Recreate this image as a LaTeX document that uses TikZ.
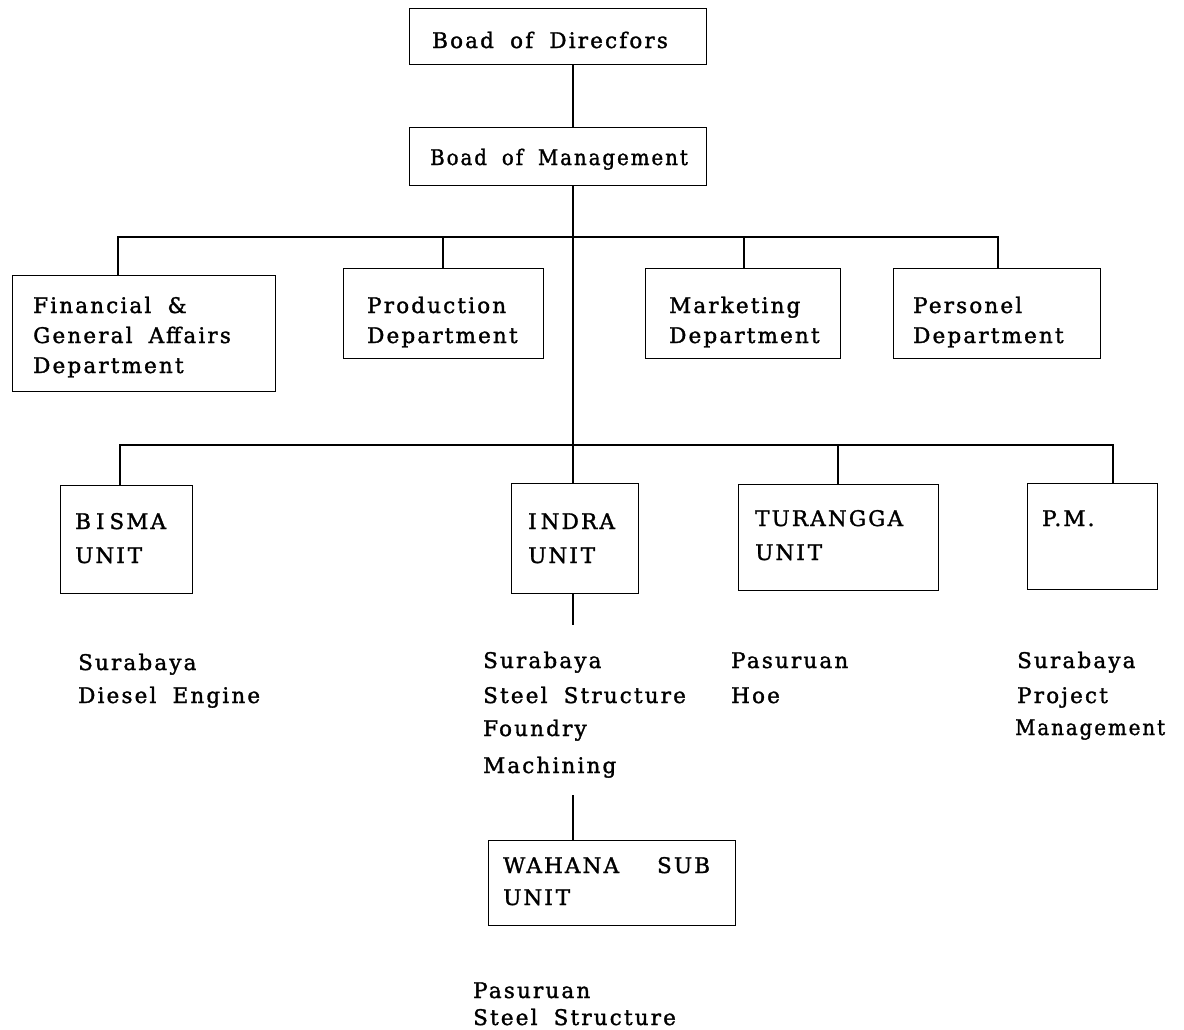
\documentclass[tikz,border=0pt]{standalone}
\usepackage{fontspec}
\setmainfont{DejaVu Serif}[LetterSpace=10, WordSpace=1.8, FakeBold=1.5]
\begin{document}
\begin{tikzpicture}[x=1pt,y=-1pt,
  box/.style={draw, line width=1.3pt, inner sep=0pt, anchor=north west},
  conn/.style={line width=2.4pt},
  txt/.style={anchor=base west, inner sep=0pt, font=\fontsize{21.5}{21.5}\selectfont},
  narrow/.style={xscale=0.92, transform shape}]
\useasboundingbox (0,0) rectangle (1184,1029);
% boxes
\node[box, minimum width=297pt, minimum height=56pt] (dir) at (409,8) {};
\node[box, minimum width=297pt, minimum height=58pt] (mgmt) at (409,127) {};
\node[box, minimum width=263pt, minimum height=116pt] (fin) at (12,275) {};
\node[box, minimum width=200pt, minimum height=90pt] (prod) at (343,268) {};
\node[box, minimum width=195pt, minimum height=90pt] (mkt) at (645,268) {};
\node[box, minimum width=207pt, minimum height=90pt] (pers) at (893,268) {};
\node[box, minimum width=132pt, minimum height=108pt] (bisma) at (60,485) {};
\node[box, minimum width=127pt, minimum height=110pt] (indra) at (511,483) {};
\node[box, minimum width=200pt, minimum height=106pt] (tur) at (738,484) {};
\node[box, minimum width=130pt, minimum height=106pt] (pm) at (1027,483) {};
\node[box, minimum width=247pt, minimum height=85pt] (wah) at (488,840) {};
% coordinates
\coordinate (spine) at (573,0);
\coordinate (b1L) at (118,237);
\coordinate (b1R) at (998,237);
\coordinate (b1P) at (443,237);
\coordinate (b1M) at (744,237);
\coordinate (b2L) at (120,445);
\coordinate (b2R) at (1113,445);
\coordinate (b2T) at (838,445);
\coordinate (indraEnd) at (573,625);
\coordinate (wahStart) at (573,795);
% connectors
\draw[conn] (dir.south -| spine) -- (mgmt.north -| spine);
\draw[conn] (mgmt.south -| spine) -- (indra.north -| spine);
\draw[conn] (fin.north -| b1L) -- (b1L) -- (b1R) -- (pers.north -| b1R);
\draw[conn] (b1P) -- (prod.north -| b1P);
\draw[conn] (b1M) -- (mkt.north -| b1M);
\draw[conn] (bisma.north -| b2L) -- (b2L) -- (b2R) -- (pm.north -| b2R);
\draw[conn] (b2T) -- (tur.north -| b2T);
\draw[conn] (indra.south -| spine) -- (indraEnd);
\draw[conn] (wahStart) -- (wah.north -| spine);
% box texts
\node[txt] (dirT) at (432,48) {Boad of Direcfors};
\node[txt, narrow] (mgmtT) at (430,165) {Boad of Management};
\node[txt] (finT1) at (33,313) {Financial \&};
\node[txt] (finT2) at (33,343) {General Affairs};
\node[txt] (finT3) at (33,373) {Department};
\node[txt] (prodT1) at (367,313) {Production};
\node[txt] (prodT2) at (367,343) {Department};
\node[txt] (mktT1) at (669,313) {Marketing};
\node[txt] (mktT2) at (669,343) {Department};
\node[txt] (persT1) at (913,313) {Personel};
\node[txt] (persT2) at (913,343) {Department};
\node[txt] (bismaT1) at (75,529) {B\hspace*{5pt}I\hspace*{5pt}SMA};
\node[txt] (bismaT2) at (75,563) {UN\hspace*{2pt}I\hspace*{3pt}T};
\node[txt] (indraT1) at (528,529) {I\hspace*{4pt}NDRA};
\node[txt] (indraT2) at (528,563) {UN\hspace*{2pt}I\hspace*{3pt}T};
\node[txt] (turT1) at (755,526) {TURANGGA};
\node[txt] (turT2) at (755,560) {UN\hspace*{2pt}I\hspace*{3pt}T};
\node[txt] (pmT) at (1042,526) {P.M.};
\node[txt] (wahT1) at (503,873) {WAHANA\hspace*{38pt}SUB};
\node[txt] (wahT2) at (503,905) {UN\hspace*{2pt}I\hspace*{3pt}T};
% location texts
\node[txt] (l1a) at (78,670) {Surabaya};
\node[txt] (l1b) at (78,703) {Diesel Engine};
\node[txt] (l2a) at (483,668) {Surabaya};
\node[txt] (l2b) at (483,703) {Steel Structure};
\node[txt] (l2c) at (483,736) {Foundry};
\node[txt] (l2d) at (483,773) {Machining};
\node[txt] (l3a) at (731,668) {Pasuruan};
\node[txt] (l3b) at (731,703) {Hoe};
\node[txt] (l4a) at (1017,668) {Surabaya};
\node[txt] (l4b) at (1017,703) {Project};
\node[txt, narrow] (l4c) at (1015,735) {Management};
\node[txt] (l5a) at (473,998) {Pasuruan};
\node[txt] (l5b) at (473,1025) {Steel Structure};
\end{tikzpicture}
\end{document}
